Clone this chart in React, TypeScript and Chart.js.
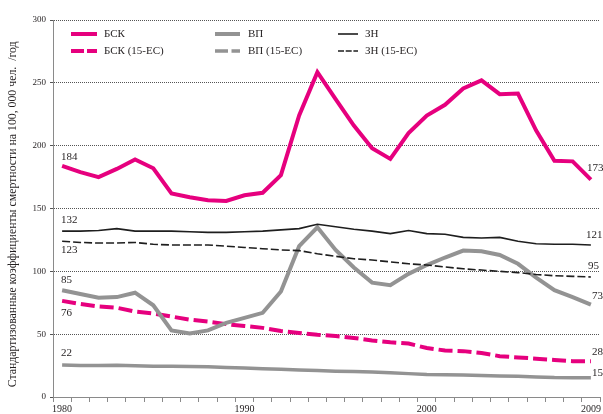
import React, { useEffect, useRef } from 'react';
import { Chart, registerables } from 'chart.js';

Chart.register(...registerables);

// ---- data ----
const years = ['1980','1981','1982','1983','1984','1985','1986','1987','1988','1989','1990','1991','1992','1993','1994','1995','1996','1997','1998','1999','2000','2001','2002','2003','2004','2005','2006','2007','2008','2009'];
const shownYearLabels = ['1980', '1990', '2000', '2009'];
const yTickValues = [0, 50, 100, 150, 200, 250, 300];

const bsk = [184,179,175,181.5,189,182,162,159,156.5,156,160.5,162.5,176.5,224,258.5,237,216,198,189.5,210,224,232.5,245.5,252,241,241.5,212,188,187.5,173];
const bsk15 = [76.5,74,72,71,68,66.5,64,61.5,60,58,56.5,55,52.5,51,49.5,48.5,47,45,43.5,42.5,39,37,36.5,35,32.5,31.5,30.5,29.5,28.5,28.5];
const vp = [85,82,79,79.5,83,73,53,50.5,53,59,63,67,84,120,135,117,103,91,89,98,105,111,116.5,116,113,106,95,85,79.5,73.5];
const vp15 = [25.5,25,25,25.2,24.8,24.5,24.5,24.3,24,23.5,23,22.5,22,21.5,21,20.5,20.3,19.8,19.2,18.6,18,17.8,17.5,17.2,16.8,16.5,16,15.5,15.4,15.3];
const zn = [132,132,132.5,134,132,132,132,131.5,131,131,131.5,132,133,134,137.5,135.5,133.5,132,130,132.5,130,129.5,127,126.5,127,124,122,121.5,121.5,121];
const zn15 = [124,123,122.5,122.5,123,121.5,121,121,121,120,119,118,117,116.5,114,112,110,109,107.5,106,105,103.5,102,101,100,99,97.5,96.5,96,95.5];

const seriesNames = ['БСК', 'БСК (15-ЕС)', 'ВП', 'ВП (15-ЕС)', 'ЗН', 'ЗН (15-ЕС)'];
const startLabels = ['184', '76', '85', '22', '132', '123'];
const endLabels = ['173', '28', '73', '15', '121', '95'];
const yTitle = 'Стандартизованные коэффициенты смертности на 100, 000 чел.  /год    ';

// ---- styles ----
const PINK = '#e6007e';
const GRAY = '#939393';
const BLACK = '#1e1e1e';
const SERIF = '"Liberation Serif", "DejaVu Serif", serif';

const styles = [
  { color: PINK, width: 4, dash: [] as number[], legendDash: [] as number[] },
  { color: PINK, width: 4, dash: [14, 5], legendDash: [13, 3] },
  { color: GRAY, width: 4, dash: [], legendDash: [] },
  { color: GRAY, width: 3.5, dash: [], legendDash: [13, 3.5] },
  { color: BLACK, width: 1.6, dash: [], legendDash: [] },
  { color: BLACK, width: 1.6, dash: [8, 3], legendDash: [6, 1.7] },
];

// label offsets relative to first / last point
const startOffsets = [[-1, -9], [-1, 12], [-1, -10], [-1, -12], [-1, -11], [-1, 9]];
const endOffsets = [[-4, -11], [1, -9], [1, -9], [1, -5], [-5, -10], [-3, -11]];

// legend layout: [lineX, lineLen, textX, rowY]
const legendPos = [
  [71, 26, 104, 34], [71, 26, 104, 51],
  [215, 25, 248, 34], [215, 25, 248, 51],
  [338, 20, 365, 34], [338, 20, 365, 51],
];

const allSeries = [bsk, bsk15, vp, vp15, zn, zn15];

const labelsPlugin = {
  id: 'endLabels',
  afterDraw(chart: any) {
    const ctx = chart.ctx;
    const xs = chart.scales.x;
    const ys = chart.scales.y;
    ctx.save();
    ctx.font = `11px ${SERIF}`;
    ctx.fillStyle = '#231f20';
    ctx.textBaseline = 'middle';
    ctx.textAlign = 'left';
    allSeries.forEach((arr, i) => {
      const n = arr.length;
      const x0 = xs.getPixelForValue(0);
      const y0 = ys.getPixelForValue(arr[0]);
      ctx.fillText(startLabels[i], x0 + startOffsets[i][0], y0 + startOffsets[i][1]);
      const x1 = xs.getPixelForValue(n - 1);
      const y1 = ys.getPixelForValue(arr[n - 1]);
      ctx.fillText(endLabels[i], x1 + endOffsets[i][0], y1 + endOffsets[i][1]);
    });
    // legend
    ctx.font = `11px ${SERIF}`;
    seriesNames.forEach((name, i) => {
      const [lx, len, tx, ry] = legendPos[i];
      const st = styles[i];
      ctx.strokeStyle = st.color;
      ctx.lineWidth = st.width;
      ctx.setLineDash(st.legendDash);
      ctx.beginPath();
      ctx.moveTo(lx, ry);
      ctx.lineTo(lx + len, ry);
      ctx.stroke();
      ctx.setLineDash([]);
      ctx.fillStyle = '#231f20';
      ctx.fillText(name, tx, ry);
    });
    ctx.restore();
  },
};

export default function App() {
  const ref = useRef<HTMLCanvasElement>(null);
  useEffect(() => {
    if (!ref.current) return;
    const chart = new Chart(ref.current, {
      type: 'line',
      data: {
        labels: years,
        datasets: allSeries.map((arr, i) => ({
          label: seriesNames[i],
          data: arr,
          borderColor: styles[i].color,
          backgroundColor: styles[i].color,
          borderWidth: styles[i].width,
          borderDash: styles[i].dash,
          pointRadius: 0,
          tension: 0,
          fill: false,
          borderJoinStyle: 'miter' as const,
          order: 6 - i,
        })),
      },
      options: {
        responsive: false,
        animation: false,
        events: [],
        layout: { padding: { top: 20, right: 3, left: 0, bottom: 0 } },
        plugins: {
          legend: { display: false },
          tooltip: { enabled: false },
        },
        scales: {
          x: {
            type: 'category',
            offset: true,
            grid: {
              offset: true,
              drawOnChartArea: false,
              drawTicks: true,
              tickLength: 5,
              color: '#8a8a8a',
            },
            border: { color: '#8a8a8a', width: 1 },
            ticks: {
              autoSkip: false,
              maxRotation: 0,
              minRotation: 0,
              padding: 1,
              color: '#231f20',
              font: { family: SERIF, size: 10 },
              callback: (_v: any, idx: number) =>
                shownYearLabels.includes(years[idx]) ? years[idx] : '',
            },
            afterFit: (s: any) => { s.height = 17; },
          },
          y: {
            min: 0,
            max: 300,
            afterBuildTicks: (s: any) => { s.ticks = yTickValues.map((v) => ({ value: v })); },
            grid: {
              color: '#555',
              lineWidth: 1,
              drawTicks: true,
              tickLength: 3,
            },
            border: { color: '#8a8a8a', width: 1, dash: [1, 1] },
            ticks: {
              padding: 4,
              color: '#231f20',
              font: { family: SERIF, size: 9 },
            },
            title: {
              display: true,
              text: yTitle,
              color: '#231f20',
              font: { family: SERIF, size: 11.8 },
              padding: { top: 6, bottom: 0 },
            },
            afterFit: (s: any) => { s.width = 53; },
          },
        },
      },
      plugins: [labelsPlugin],
    });
    return () => chart.destroy();
  }, []);
  return (
    <div style={{ position: 'fixed', left: 0, top: 0, width: 603, height: 414, background: '#fff' }}>
      <canvas ref={ref} width={603} height={414} />
    </div>
  );
}
